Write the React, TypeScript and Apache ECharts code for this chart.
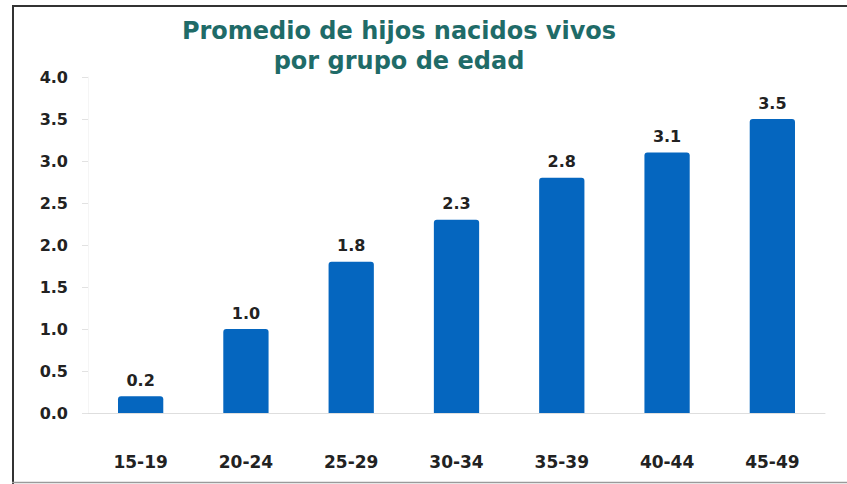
import React, { useEffect, useRef } from "react";
import * as echarts from "echarts";

const titleLines = ["Promedio de hijos nacidos vivos", "por grupo de edad"];
const categories = ["15-19", "20-24", "25-29", "30-34", "35-39", "40-44", "45-49"];
const values = [0.2, 1.0, 1.8, 2.3, 2.8, 3.1, 3.5];
const yMin = 0;
const yMax = 4;
const yInterval = 0.5;

export default function App() {
  const ref = useRef<HTMLDivElement>(null);
  useEffect(() => {
    if (!ref.current) return;
    const chart = echarts.init(ref.current, null, { renderer: "svg" });
    const font = "'DejaVu Sans', sans-serif";
    chart.setOption({
      animation: false,
      backgroundColor: "#ffffff",
      title: {
        text: titleLines.join("\n"),
        left: 394,
        top: 11,
        textAlign: "center",
        textStyle: {
          fontFamily: font,
          fontWeight: "bold",
          fontSize: 24,
          lineHeight: 30,
          color: "#1f6b68",
        },
      },
      grid: { left: 88, right: 22, top: 77, bottom: 71 },
      xAxis: {
        type: "category",
        data: categories,
        axisLine: { show: true, lineStyle: { color: "#dedede", width: 1 } },
        axisTick: { show: false },
        axisLabel: {
          margin: 40,
          fontFamily: font,
          fontWeight: "bold",
          fontSize: 17,
          color: "#222222",
        },
      },
      yAxis: {
        type: "value",
        min: yMin,
        max: yMax,
        interval: yInterval,
        splitLine: { show: false },
        axisLine: { show: true, lineStyle: { color: "#f5f5f5" } },
        axisTick: { show: true, length: 6, lineStyle: { color: "#e2e2e2" } },
        axisLabel: {
          margin: 20,
          fontFamily: font,
          fontWeight: "bold",
          fontSize: 16,
          color: "#222222",
          formatter: (v: number) => v.toFixed(1),
        },
      },
      series: [
        {
          type: "bar",
          data: values,
          barWidth: "43%",
          itemStyle: { color: "#0566bf", borderRadius: [3, 3, 0, 0] },
          label: {
            show: true,
            position: "top",
            distance: 8,
            fontFamily: font,
            fontWeight: "bold",
            fontSize: 16,
            color: "#222222",
            formatter: (p: any) => Number(p.value).toFixed(1),
          },
        },
      ],
      graphic: [
        { type: "line", shape: { x1: 13, y1: 5, x2: 13, y2: 484 }, style: { stroke: "#333333", lineWidth: 2 } },
        { type: "line", shape: { x1: 12, y1: 6, x2: 847, y2: 6 }, style: { stroke: "#333333", lineWidth: 2 } },
        { type: "line", shape: { x1: 12, y1: 482.5, x2: 847, y2: 482.5 }, style: { stroke: "#9a9a9a", lineWidth: 1.5 } },
      ],
    });
    return () => chart.dispose();
  }, []);
  return (
    <div
      ref={ref}
      style={{ position: "fixed", left: 0, top: 0, width: 847, height: 484 }}
    />
  );
}
